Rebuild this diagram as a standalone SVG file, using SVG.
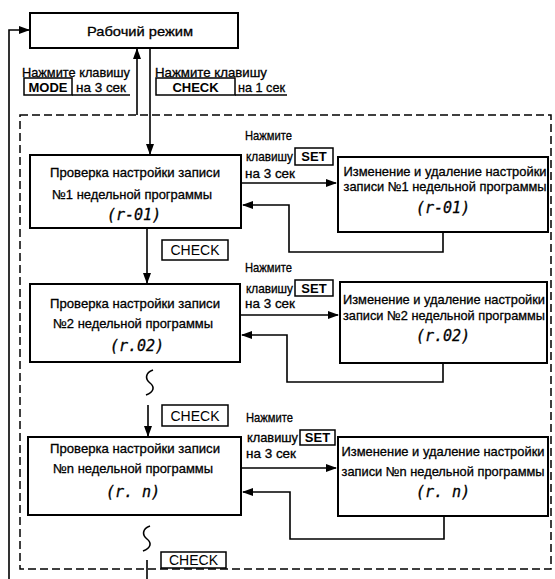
<svg xmlns="http://www.w3.org/2000/svg" width="555" height="579" viewBox="0 0 555 579">
<defs>
<marker id="ah" markerUnits="userSpaceOnUse" markerWidth="11" markerHeight="8" refX="10" refY="4" orient="auto">
<path d="M0,0 L11,4 L0,8 z" fill="#000"/>
</marker>
<style>
.box{fill:#fff;stroke:#000;stroke-width:2}
.key{fill:#fff;stroke:#000;stroke-width:1.5}
.t{font-family:"Liberation Sans",Arial,sans-serif;font-size:13px;fill:#000;stroke:#000;stroke-width:0.3}
.c{text-anchor:middle}
.k{font-family:"Liberation Sans",Arial,sans-serif;font-size:13px;font-weight:bold;fill:#000;text-anchor:middle}
.kr{font-family:"Liberation Sans",Arial,sans-serif;font-size:14px;fill:#000;text-anchor:middle}
.seg{font-family:"DejaVu Sans Mono",monospace;font-size:15px;font-style:italic;fill:#000;text-anchor:middle;stroke:#000;stroke-width:0.3}
.conn{stroke:#000;stroke-width:1.6;fill:none}
.dash{stroke:#000;stroke-width:1.5;fill:none;stroke-dasharray:8 4}
</style>
</defs>

<g id="frame">
<rect class="dash" x="20" y="115" width="531" height="454"/>
</g>

<g id="connectors">
<polyline class="conn" points="9,579 9,30 29,30" marker-end="url(#ah)"/>
<line class="conn" x1="137" y1="115" x2="137" y2="49" marker-end="url(#ah)"/>
<line class="conn" x1="150" y1="48" x2="150" y2="154" marker-end="url(#ah)"/>
<line class="conn" x1="147" y1="228" x2="147" y2="283" marker-end="url(#ah)"/>
<line class="conn" x1="148" y1="405" x2="148" y2="436" marker-end="url(#ah)"/>
<line class="conn" x1="147" y1="560" x2="147" y2="579"/>
<path class="conn" d="M153,370 C145,373 145,379 150,383 C155,387 154,392 146,395"/>
<path class="conn" d="M150,526 C142,529 142,535 147,539 C152,543 151,548 143,551"/>
<line class="conn" x1="242" y1="183" x2="336" y2="183" marker-end="url(#ah)"/>
<polyline class="conn" points="443,232 443,252 289,252 289,205 243,205" marker-end="url(#ah)"/>
<line class="conn" x1="241" y1="315" x2="338" y2="315" marker-end="url(#ah)"/>
<polyline class="conn" points="443,363 443,382 287,382 287,335 242,335" marker-end="url(#ah)"/>
<line class="conn" x1="242" y1="468" x2="336" y2="468" marker-end="url(#ah)"/>
<polyline class="conn" points="444,516 444,539 290,539 290,492 243,492" marker-end="url(#ah)"/>
</g>

<g id="work">
<rect class="box" x="30" y="13" width="208" height="35"/>
<text class="t c" x="140" y="36" font-size="15" textLength="106" lengthAdjust="spacingAndGlyphs">Рабочий режим</text>
</g>

<g id="label-mode">
<text class="t" x="22" y="77" textLength="108" lengthAdjust="spacingAndGlyphs">Нажмите клавишу</text>
<rect class="key" x="24" y="78" width="48" height="17"/>
<text class="k" x="48" y="92">MODE</text>
<text class="t" x="76" y="92" textLength="50" lengthAdjust="spacingAndGlyphs">на 3 сек</text>
<line class="conn" x1="72" y1="95" x2="130" y2="95" stroke-width="1.2"/>
</g>

<g id="label-check">
<text class="t" x="155" y="77" textLength="112" lengthAdjust="spacingAndGlyphs">Нажмите клавишу</text>
<rect class="key" x="156" y="78" width="79" height="17"/>
<text class="k" x="195.5" y="92">CHECK</text>
<text class="t" x="238" y="92" textLength="47" lengthAdjust="spacingAndGlyphs">на 1 сек</text>
<line class="conn" x1="235" y1="95" x2="287" y2="95" stroke-width="1.2"/>
</g>

<g id="check1">
<rect class="box" x="30" y="155" width="211" height="73"/>
<text class="t c" x="135" y="177" textLength="170" lengthAdjust="spacingAndGlyphs">Проверка настройки записи</text>
<text class="t c" x="132" y="199" textLength="160" lengthAdjust="spacingAndGlyphs">№1 недельной программы</text>
<text class="seg" x="134" y="220">(r-01)</text>
</g>

<g id="edit1">
<rect class="box" x="338" y="157" width="210" height="75"/>
<text class="t c" x="445" y="176" textLength="203" lengthAdjust="spacingAndGlyphs">Изменение и удаление настройки</text>
<text class="t c" x="445" y="191" textLength="203" lengthAdjust="spacingAndGlyphs">записи №1 недельной программы</text>
<text class="seg" x="443" y="213">(r-01)</text>
</g>

<g id="set1">
<text class="t" x="245" y="140" textLength="47" lengthAdjust="spacingAndGlyphs">Нажмите</text>
<text class="t" x="246" y="161" textLength="47" lengthAdjust="spacingAndGlyphs">клавишу</text>
<rect class="key" x="295" y="148" width="38" height="17"/>
<text class="k" x="314" y="161">SET</text>
<text class="t" x="245" y="178" textLength="50" lengthAdjust="spacingAndGlyphs">на 3 сек</text>
</g>

<g id="checkkey1">
<rect class="key" x="162" y="240" width="66" height="20"/>
<text class="kr" x="195" y="255">CHECK</text>
</g>

<g id="check2">
<rect class="box" x="30" y="284" width="210" height="78"/>
<text class="t c" x="135" y="308" textLength="170" lengthAdjust="spacingAndGlyphs">Проверка настройки записи</text>
<text class="t c" x="133" y="328" textLength="160" lengthAdjust="spacingAndGlyphs">№2 недельной программы</text>
<text class="seg" x="137" y="351">(r.02)</text>
</g>

<g id="edit2">
<rect class="box" x="340" y="282" width="207" height="81"/>
<text class="t c" x="444" y="304" textLength="202" lengthAdjust="spacingAndGlyphs">Изменение и удаление настройки</text>
<text class="t c" x="444" y="320" textLength="202" lengthAdjust="spacingAndGlyphs">записи №2 недельной программы</text>
<text class="seg" x="443" y="341">(r.02)</text>
</g>

<g id="set2">
<text class="t" x="245" y="272" textLength="47" lengthAdjust="spacingAndGlyphs">Нажмите</text>
<text class="t" x="246" y="293" textLength="47" lengthAdjust="spacingAndGlyphs">клавишу</text>
<rect class="key" x="295" y="280" width="38" height="16"/>
<text class="k" x="314" y="293">SET</text>
<text class="t" x="245" y="308" textLength="50" lengthAdjust="spacingAndGlyphs">на 3 сек</text>
</g>

<g id="checkkey2">
<rect class="key" x="162" y="405" width="66" height="21"/>
<text class="kr" x="195" y="421">CHECK</text>
</g>

<g id="checkn">
<rect class="box" x="28" y="437" width="213" height="78"/>
<text class="t c" x="135" y="453" textLength="170" lengthAdjust="spacingAndGlyphs">Проверка настройки записи</text>
<text class="t c" x="133" y="473" textLength="160" lengthAdjust="spacingAndGlyphs">№n недельной программы</text>
<text class="seg" x="133" y="497">(r. n)</text>
</g>

<g id="editn">
<rect class="box" x="338" y="437" width="210" height="79"/>
<text class="t c" x="443" y="456" textLength="203" lengthAdjust="spacingAndGlyphs">Изменение и удаление настройки</text>
<text class="t c" x="443" y="476" textLength="203" lengthAdjust="spacingAndGlyphs">записи №n недельной программы</text>
<text class="seg" x="443" y="497">(r. n)</text>
</g>

<g id="setn">
<text class="t" x="246" y="422" textLength="47" lengthAdjust="spacingAndGlyphs">Нажмите</text>
<text class="t" x="247" y="442" textLength="51" lengthAdjust="spacingAndGlyphs">клавишу</text>
<rect class="key" x="300" y="430" width="35" height="15"/>
<text class="k" x="317.5" y="442">SET</text>
<text class="t" x="246" y="458" textLength="50" lengthAdjust="spacingAndGlyphs">на 3 сек</text>
</g>

<g id="checkkey3">
<rect class="key" x="161" y="552" width="65" height="16"/>
<text class="kr" x="193.5" y="565">CHECK</text>
</g>
</svg>
